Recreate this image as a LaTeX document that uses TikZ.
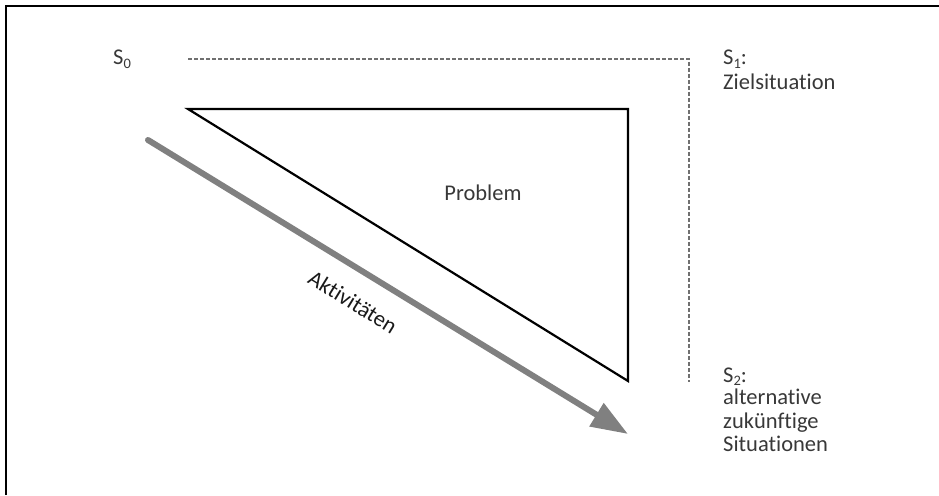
\documentclass[tikz,border=0pt]{standalone}
\usepackage{fontspec}
\setmainfont{Carlito}[Ligatures=NoCommon]
\usetikzlibrary{arrows.meta}
\definecolor{txt}{HTML}{383838}
\definecolor{arrowgray}{HTML}{808080}
\definecolor{dashgray}{HTML}{707070}
\tikzset{
  label/.style={inner sep=0pt, text=txt, font=\fontsize{22.5}{23.7}\selectfont, align=left},
  frameline/.style={line width=2pt, black},
  dashline/.style={dashgray, line width=2.2pt, dash pattern=on 4pt off 2pt},
  problemline/.style={black, line width=2.2pt, line join=miter},
  activity/.style={arrowgray, line width=6pt, line cap=round, -{Triangle[length=37pt,width=26pt]}},
}
\newcommand{\subnum}[1]{{\fontsize{14.5}{14.5}\selectfont\raisebox{-3.5pt}{#1}}}
\begin{document}
\begin{tikzpicture}[x=1pt,y=-1pt]
\useasboundingbox (0,0) rectangle (939,495);
% frame (top and left edges visible)
\coordinate (fbl) at (5.5,495);
\coordinate (ftl) at (5.5,6.5);
\coordinate (ftr) at (939,6.5);
\draw[frameline] (fbl) -- (ftl) -- (ftr);
% dashed reference line
\coordinate (d0) at (188,59);
\coordinate (d1) at (689,59);
\coordinate (d2) at (689,382);
\draw[dashline] (d0) -- (d1) -- (d2);
% problem triangle
\coordinate (t1) at (188,109);
\coordinate (t2) at (628,109);
\coordinate (t3) at (628,381);
\draw[problemline] (t1) -- (t2) -- (t3) -- cycle;
% activities arrow
\coordinate (a0) at (148,140);
\coordinate (a1) at (628,434);
\draw[activity] (a0) -- (a1);
% labels
\node[label, anchor=base west] (s0) at (113,65) {S\subnum{0}};
\node[label, anchor=base west] (s1) at (723,65) {S\subnum{1}:};
\node[label, anchor=base west] (s1t) at (723,89) {Zielsituation};
\node[label, anchor=base west] (s2) at (723,382) {S\subnum{2}:};
\node[label, anchor=north west] (s2t) at (723,388.5) {alternative\\zukünftige\\Situationen};
\node[label] (prob) at (483,193) {Problem};
\node[label, text=black!90, rotate=-31.5] (akt) at (353,302) {Aktivitäten};
\end{tikzpicture}
\end{document}
